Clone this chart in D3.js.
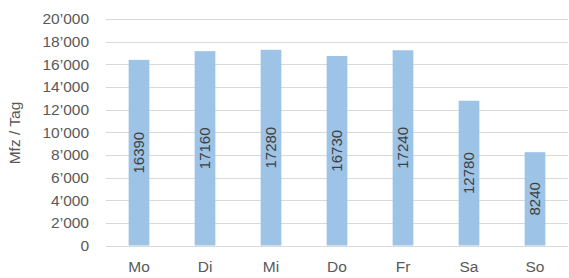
<!DOCTYPE html>
<html lang="de">
<head>
    <meta charset="UTF-8">
    <title>Mfz / Tag</title>
    <script src="https://cdn.jsdelivr.net/npm/d3@7"></script>
    <style>
        body { margin: 0; background: #fff; }
        text { font-family: "Liberation Sans", Arial, sans-serif; }
    </style>
</head>
<body>
<script>
    // Daten
    var tage = ["Mo", "Di", "Mi", "Do", "Fr", "Sa", "So"];
    var werte = [16390, 17160, 17280, 16730, 17240, 12780, 8240];
    var ticks = [0, 2000, 4000, 6000, 8000, 10000, 12000, 14000, 16000, 18000, 20000];

    var width = 569, height = 278;
    var margin = {top: 19, right: 1, bottom: 32.5, left: 106};

    var svg = d3.select("body").append("svg")
        .attr("width", width)
        .attr("height", height);

    var x = d3.scaleBand()
        .domain(tage)
        .range([margin.left, width - margin.right])
        .paddingInner(0.686)
        .paddingOuter(0.343);

    var y = d3.scaleLinear()
        .domain([0, 20000])
        .range([height - margin.bottom, margin.top]);

    var fmt = function (d) {
        return d3.format(",")(d).replace(/,/g, "\u2019");
    };

    // Gitterlinien
    svg.append("g")
        .selectAll("line")
        .data(ticks)
        .enter().append("line")
        .attr("x1", margin.left)
        .attr("x2", width - margin.right)
        .attr("y1", function (d) { return Math.round(y(d)) + 0.5; })
        .attr("y2", function (d) { return Math.round(y(d)) + 0.5; })
        .attr("stroke", "#d9d9d9")
        .attr("stroke-width", 1.2);

    // Y-Achse
    var yAxis = d3.axisLeft(y).tickValues(ticks).tickFormat(fmt).tickSize(0).tickPadding(0);
    var gy = svg.append("g")
        .attr("transform", "translate(89,0)")
        .call(yAxis);
    gy.select(".domain").remove();
    gy.selectAll("text")
        .attr("fill", "#595959")
        .attr("font-size", "15.5px");

    // X-Achse
    var xAxis = d3.axisBottom(x).tickSize(0).tickPadding(0);
    var gx = svg.append("g")
        .attr("transform", "translate(0,261)")
        .call(xAxis);
    gx.select(".domain").remove();
    gx.selectAll("text")
        .attr("fill", "#595959")
        .attr("font-size", "15.5px");

    // Balken
    svg.append("g")
        .selectAll("rect")
        .data(werte)
        .enter().append("rect")
        .attr("x", function (d, i) { return x(tage[i]); })
        .attr("y", function (d) { return y(d); })
        .attr("width", x.bandwidth())
        .attr("height", function (d) { return y(0) - y(d); })
        .attr("fill", "#9dc3e6");

    // Werte in den Balken
    svg.append("g")
        .selectAll("text")
        .data(werte)
        .enter().append("text")
        .attr("transform", function (d, i) {
            var cx = x(tage[i]) + x.bandwidth() / 2;
            var cy = (y(d) + y(0)) / 2;
            return "translate(" + cx + "," + cy + ") rotate(-90)";
        })
        .attr("text-anchor", "middle")
        .attr("dy", "0.35em")
        .attr("fill", "#404040")
        .attr("font-size", "15px")
        .text(function (d) { return d; });

    // Achsentitel
    svg.append("text")
        .attr("transform", "translate(15,133) rotate(-90)")
        .attr("text-anchor", "middle")
        .attr("dy", "0.35em")
        .attr("fill", "#595959")
        .attr("font-size", "15.5px")
        .text("Mfz / Tag");
</script>
</body>
</html>
